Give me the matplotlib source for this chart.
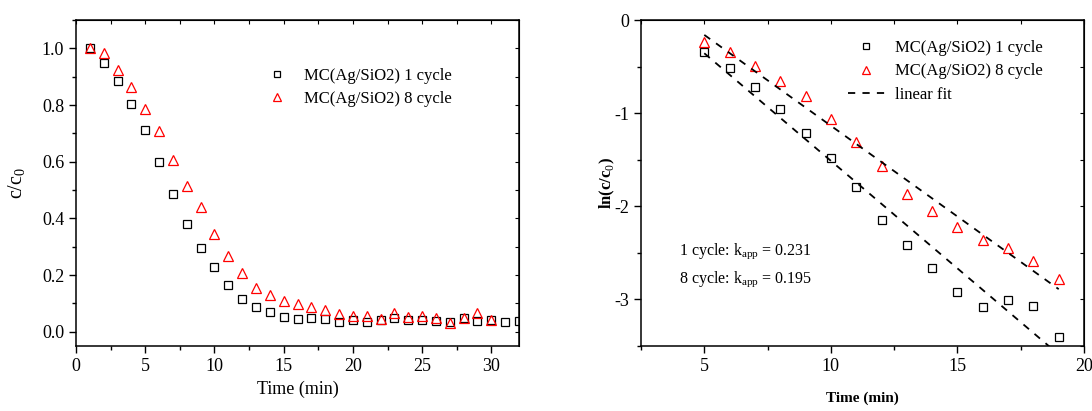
import numpy as np
import matplotlib
matplotlib.use("Agg")
import matplotlib.pyplot as plt
from matplotlib.ticker import MultipleLocator

plt.rcParams['font.family'] = ['Liberation Serif', 'DejaVu Serif']
plt.rcParams['mathtext.fontset'] = 'custom'
plt.rcParams['mathtext.rm'] = 'Liberation Serif'
plt.rcParams['mathtext.bf'] = 'Liberation Serif:bold'
plt.rcParams['axes.unicode_minus'] = False

# left panel: c/c0 vs time
t1 = list(range(1, 33))
c1 = [1.0, 0.949, 0.885, 0.802, 0.713, 0.600, 0.486, 0.382, 0.294, 0.227,
      0.166, 0.116, 0.088, 0.069, 0.053, 0.045, 0.049, 0.045, 0.033, 0.040,
      0.035, 0.040, 0.047, 0.042, 0.040, 0.039, 0.035, 0.049, 0.039, 0.040,
      0.035, 0.039]
t8 = list(range(1, 31))
c8 = [1.0, 0.982, 0.923, 0.862, 0.786, 0.708, 0.606, 0.514, 0.439, 0.345,
      0.268, 0.207, 0.155, 0.129, 0.109, 0.097, 0.088, 0.077, 0.062, 0.055,
      0.056, 0.046, 0.065, 0.051, 0.055, 0.048, 0.032, 0.049, 0.067, 0.040]

# right panel: ln(c/c0) vs time
tl = list(range(5, 20))
ln1 = [-0.34, -0.51, -0.72, -0.957, -1.218, -1.479, -1.79, -2.145, -2.42,
       -2.664, -2.918, -3.082, -3.004, -3.075, -3.40]
ln8 = [-0.232, -0.339, -0.496, -0.657, -0.818, -1.06, -1.31, -1.571, -1.868,
       -2.05, -2.221, -2.357, -2.443, -2.586, -2.786]
k1, b1 = 0.231, 0.798
k8, b8 = 0.195, 0.815
fit_t = [5, 19]

fig = plt.figure(figsize=(10.92, 4.11), dpi=100)
axL = fig.add_axes([0.0696, 0.1582, 0.4057, 0.7931])
axR = fig.add_axes([0.587, 0.1582, 0.4057, 0.7931])

sq = dict(marker='s', ls='none', mfc='none', mec='black', ms=6.2, mew=0.9)
tr = dict(marker='^', ls='none', mfc='none', mec='red', ms=7.5, mew=0.9)

axL.plot(t1, c1, label='MC(Ag/SiO2) 1 cycle', **sq)
axL.plot(t8, c8, label='MC(Ag/SiO2) 8 cycle', **tr)
axL.set_xlim(0, 32)
axL.set_ylim(-0.05, 1.1)
axL.xaxis.set_major_locator(MultipleLocator(5))
axL.xaxis.set_minor_locator(MultipleLocator(2.5))
axL.yaxis.set_major_locator(MultipleLocator(0.2))
axL.yaxis.set_minor_locator(MultipleLocator(0.1))
axL.yaxis.set_major_formatter(matplotlib.ticker.FormatStrFormatter('%.1f'))
axL.set_xlabel('Time (min)', fontsize=13)
axL.set_ylabel('c/c$_0$', fontsize=14.5, labelpad=10)
axL.legend(loc='upper right', bbox_to_anchor=(0.882, 0.90), frameon=False,
           fontsize=12, handletextpad=0.6, labelspacing=0.45, markerscale=0.8)

fit = np.array(fit_t)
axR.plot(tl, ln1, label='MC(Ag/SiO2) 1 cycle', **sq)
axR.plot(tl, ln8, label='MC(Ag/SiO2) 8 cycle', **tr)
axR.plot(fit, b1 - k1 * fit, 'k--', lw=1.3, dashes=(4, 4), label='linear fit')
axR.plot(fit, b8 - k8 * fit, 'k--', lw=1.3, dashes=(4, 4))
axR.set_xlim(2.5, 20)
axR.set_ylim(-3.5, 0)
axR.xaxis.set_major_locator(MultipleLocator(5))
axR.xaxis.set_minor_locator(MultipleLocator(2.5))
axR.yaxis.set_major_locator(MultipleLocator(1))
axR.yaxis.set_minor_locator(MultipleLocator(0.5))
axR.set_xlabel('Time (min)', fontsize=11, fontweight='bold', labelpad=12)
axR.set_ylabel('ln(c/c$_0$)', fontsize=12, fontweight='bold', labelpad=-2)
axR.legend(loc='upper right', bbox_to_anchor=(0.94, 0.985), frameon=False,
           fontsize=12, handletextpad=0.6, labelspacing=0.45, markerscale=0.8,
           handlelength=2.2)
axR.text(0.085, 0.28, '1 cycle: k$_{\\rm app}$ = 0.231', transform=axR.transAxes,
         fontsize=11.5)
axR.text(0.085, 0.195, '8 cycle: k$_{\\rm app}$ = 0.195', transform=axR.transAxes,
         fontsize=11.5)

for ax in (axL, axR):
    ax.tick_params(which='major', direction='out', length=5, width=1, labelsize=13)
    ax.tick_params(which='minor', direction='out', length=3, width=1)
    for s in ax.spines.values():
        s.set_linewidth(1.1)
    top = ax.secondary_xaxis('top')
    top.xaxis.set_major_locator(MultipleLocator(2.5))
    top.tick_params(direction='in', length=3, labeltop=False)
    right = ax.secondary_yaxis('right')
    right.yaxis.set_major_locator(ax.yaxis.get_minor_locator())
    right.tick_params(direction='in', length=3, labelright=False)

fig.savefig('out.png', dpi=100)
